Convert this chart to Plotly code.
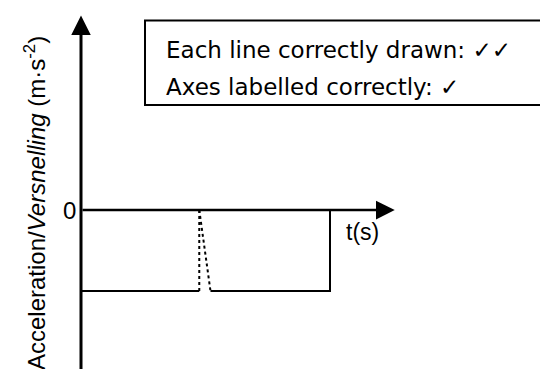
import plotly.graph_objects as go

# sketch values (time in arbitrary units, acceleration in arbitrary units)
t_solid_a = [0, 4.75]
a_solid_a = [-1, -1]
t_dash_1 = [4.75, 4.75]
a_dash_1 = [0, -1]
t_dash_2 = [4.75, 5.2]
a_dash_2 = [0, -1]
t_solid_b = [5.2, 10, 10]
a_solid_b = [-1, -1, 0]

y_label = "Acceleration/<i>Versnelling</i> (m·s<sup>-2</sup>)"
x_label = "t(s)"
box_lines = ["Each line correctly drawn: ✓✓", "Axes labelled correctly: ✓"]

W, H = 548, 369
x0_px, y0_px = 73, 202      # pixel position of the origin
px_t, px_a = 24.9, 81       # pixels per unit
t_tip, a_tip, a_bottom = 12.6, 2.4, -2.1

FONT = "Liberation Sans, Arial, sans-serif"
BOX_FONT = "DejaVu Sans, sans-serif"

fig = go.Figure()
line = dict(color="black", width=2)
dash = dict(color="black", width=2, dash="3px,3px")
fig.add_trace(go.Scatter(x=t_solid_a, y=a_solid_a, mode="lines", line=line))
fig.add_trace(go.Scatter(x=t_dash_1, y=a_dash_1, mode="lines", line=dash))
fig.add_trace(go.Scatter(x=t_dash_2, y=a_dash_2, mode="lines", line=dash))
fig.add_trace(go.Scatter(x=t_solid_b, y=a_solid_b, mode="lines", line=line))

# axes with arrows
fig.add_annotation(x=0, y=a_tip, ax=0, ay=a_bottom, xref="x", yref="y", axref="x", ayref="y",
                   showarrow=True, arrowhead=2, arrowsize=1.3, arrowwidth=3, arrowcolor="black", text="")
fig.add_annotation(x=t_tip, y=0, ax=0, ay=0, xref="x", yref="y", axref="x", ayref="y",
                   showarrow=True, arrowhead=2, arrowsize=1.5, arrowwidth=2.5, arrowcolor="black", text="")

fig.add_annotation(x=0, y=0, text="0", showarrow=False, xanchor="right", xshift=-3,
                   font=dict(family=FONT, size=24, color="black"))
fig.add_annotation(x=11.3, y=-0.27, text=x_label, showarrow=False,
                   font=dict(family=FONT, size=23, color="black"))
fig.add_annotation(xref="paper", yref="paper", x=27 / W, y=1 - 195 / H, text=y_label,
                   textangle=-90, showarrow=False, xanchor="center", yanchor="middle",
                   font=dict(family=FONT, size=24, color="black"))

# marking box
fig.add_shape(type="rect", xref="paper", yref="paper", x0=137 / W, x1=547.5 / W,
              y0=1 - 12.5 / H, y1=1 - 97 / H, line=dict(color="black", width=2))
for i, txt in enumerate(box_lines):
    fig.add_annotation(xref="paper", yref="paper", x=156 / W, y=1 - (42 + 37 * i) / H,
                       text=txt, showarrow=False, xanchor="left", yanchor="middle",
                       font=dict(family=BOX_FONT, size=23, color="black"))

fig.update_xaxes(range=[-x0_px / px_t, (W - x0_px) / px_t], visible=False)
fig.update_yaxes(range=[-(H - y0_px) / px_a, y0_px / px_a], visible=False)
fig.update_layout(width=W, height=H, margin=dict(l=0, r=0, t=0, b=0),
                  showlegend=False, plot_bgcolor="white", paper_bgcolor="white")

fig.write_html("out.html")
